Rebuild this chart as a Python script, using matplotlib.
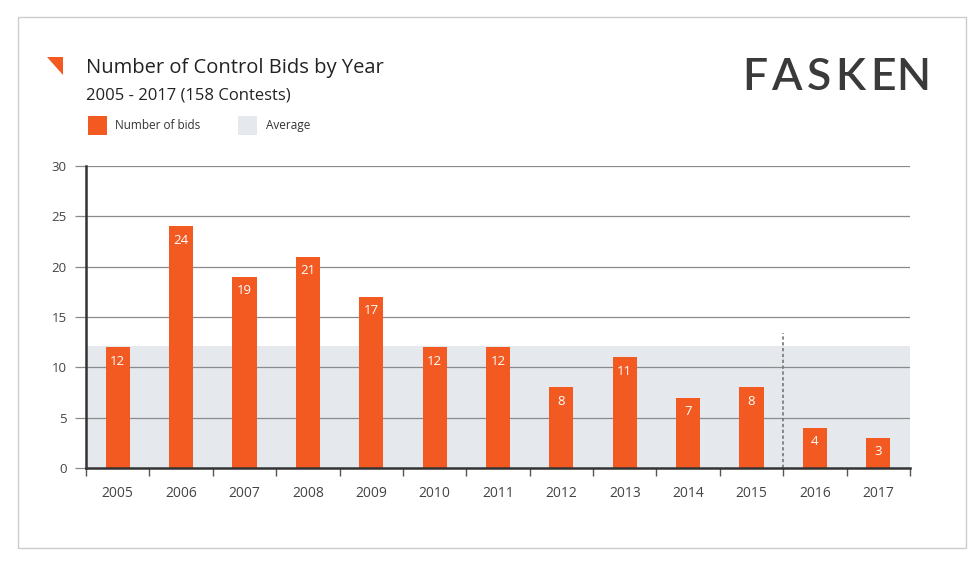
import matplotlib.pyplot as plt
from matplotlib.patches import Polygon, Rectangle
import numpy as np

years = ['2005', '2006', '2007', '2008', '2009', '2010', '2011',
         '2012', '2013', '2014', '2015', '2016', '2017']
bids = [12, 24, 19, 21, 17, 12, 12, 8, 11, 7, 8, 4, 3]
total_contests = 158
y_ticks = [0, 5, 10, 15, 20, 25, 30]

orange = '#F35A22'
band_col = '#E5E8ED'
font = ['Open Sans', 'DejaVu Sans']

plt.rcParams['font.family'] = font

fig = plt.figure(figsize=(9.79, 5.64), dpi=100)
fig.patch.set_facecolor('white')

# carte autour du graphique
fig.add_artist(Rectangle((18 / 979, 1 - 548 / 564), 948 / 979, 531 / 564,
                         transform=fig.transFigure, fill=False,
                         edgecolor='#CCCCCC', linewidth=1))

# petit triangle orange
fig.add_artist(Polygon([(47 / 979, 1 - 57 / 564), (63 / 979, 1 - 57 / 564),
                        (63 / 979, 1 - 75 / 564)],
                       closed=True, transform=fig.transFigure,
                       facecolor=orange, edgecolor='none'))

fig.text(86 / 979, 1 - 68 / 564, 'Number of Control Bids by Year',
         fontsize=14.5, color='#222222', va='center', ha='left')
fig.text(86 / 979, 1 - 96 / 564, '2005 - 2017 (%d Contests)' % total_contests,
         fontsize=12, color='#222222', va='center', ha='left')

# logo, lettres espacees une par une
logo_x = [755, 786, 819, 850, 883, 913]
for ch, px in zip('FASKEN', logo_x):
    fig.text(px / 979, 1 - 77 / 564, ch, fontsize=32, color='#3A3A3A',
             va='center', ha='center', family=['Lato', 'DejaVu Sans'],
             weight='semibold')

# legende
fig.add_artist(Rectangle((88 / 979, 1 - 135 / 564), 19 / 979, 19 / 564,
                         transform=fig.transFigure, facecolor=orange, edgecolor='none'))
fig.text(115 / 979, 1 - 126 / 564, 'Number of bids', fontsize=8.5,
         color='#333333', va='center')
fig.add_artist(Rectangle((238 / 979, 1 - 135 / 564), 19 / 979, 19 / 564,
                         transform=fig.transFigure, facecolor=band_col, edgecolor='none'))
fig.text(266 / 979, 1 - 126 / 564, 'Average', fontsize=8.5,
         color='#333333', va='center')

ax = fig.add_axes([86 / 979, 1 - 468 / 564, 824 / 979, 302 / 564])
x = np.arange(len(years))
avg = total_contests / len(years)

ax.axhspan(0, avg, color=band_col, zorder=0, linewidth=0)
for yv in y_ticks[1:]:
    ax.axhline(yv, color='#8A8A8A', linewidth=0.9, zorder=1)

ax.bar(x, bids, width=0.38, color=orange, zorder=2)
for xi, v in zip(x, bids):
    ax.annotate(str(v), (xi, v), xytext=(0, -10), textcoords='offset points',
                ha='center', va='center', color='white', fontsize=9.5, zorder=3)

ax.plot([10.5, 10.5], [0, 13.4], color='#777777', linestyle=(0, (2, 1.5)),
        linewidth=1.2, zorder=1)

ax.set_xlim(-0.5, len(years) - 0.5)
ax.set_ylim(0, 30)
ax.set_yticks(y_ticks)
ax.set_xticks(x)
ax.set_xticklabels(years)
ax.set_xticks(np.arange(-0.5, len(years)), minor=True)
ax.tick_params(axis='x', which='major', length=0, pad=13, labelsize=10,
               labelcolor='#444444')
ax.tick_params(axis='x', which='minor', length=6, width=1, color='#555555',
               direction='out')
ax.tick_params(axis='y', length=8, width=0.9, color='#8A8A8A', pad=6,
               labelsize=9.5, labelcolor='#444444')

for s in ['top', 'right']:
    ax.spines[s].set_visible(False)
ax.spines['left'].set_color('#333333')
ax.spines['left'].set_linewidth(1.8)
ax.spines['bottom'].set_color('#333333')
ax.spines['bottom'].set_linewidth(1.8)
ax.set_facecolor('none')

fig.savefig('out.png', dpi=100)
